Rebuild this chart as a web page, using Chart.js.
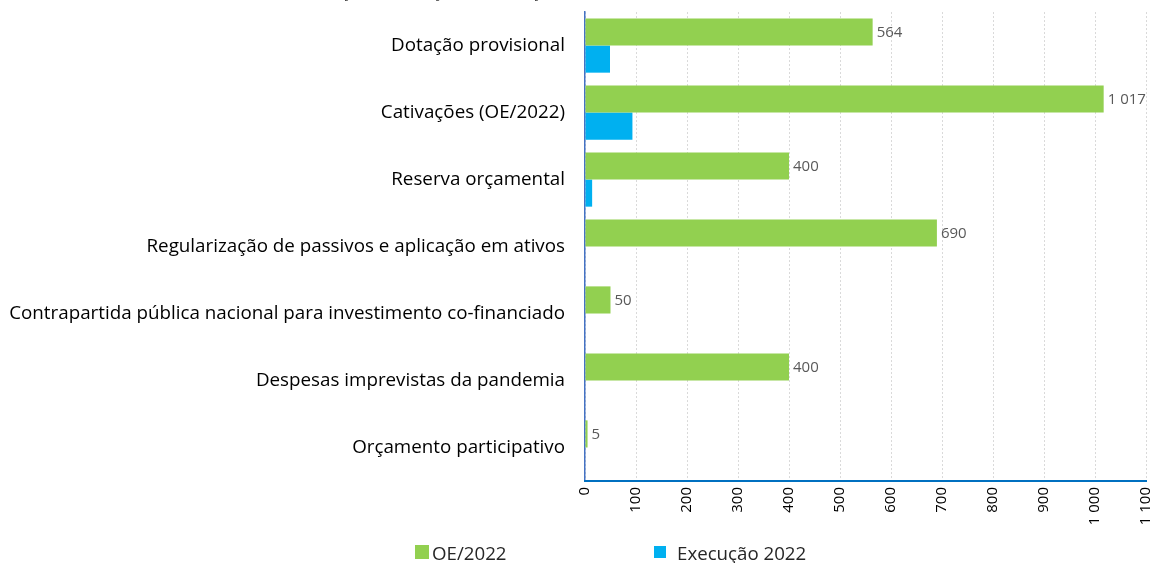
<!DOCTYPE html>
<html>
<head>
<meta charset="utf-8">
<script src="https://cdn.jsdelivr.net/npm/chart.js@4"></script>
<style>
  body { margin: 0; background: #fff; overflow: hidden; width: 1156px; height: 563px; position: relative; font-family: "Open Sans", sans-serif; }
  #wrap { position: absolute; left: 0; top: -18px; width: 1156px; height: 581px; }
  #legend { position: absolute; top: 541px; left: 0; width: 1156px; height: 22px; font-size: 18.7px; color: #262626; }
  .item { position: absolute; top: 0; display: flex; align-items: center; height: 22px; }
  .box { display: inline-block; }
</style>
</head>
<body>
<div id="wrap"><canvas id="chart" width="1156" height="581"></canvas></div>
<div id="legend"></div>
<script>
const categories = [
    'Dotação provisional',
    'Cativações (OE/2022)',
    'Reserva orçamental',
    'Regularização de passivos e aplicação em ativos',
    'Contrapartida pública nacional para investimento co-financiado',
    'Despesas imprevistas da pandemia',
    'Orçamento participativo'
];
const oe2022 = [564, 1017, 400, 690, 50, 400, 5];
const execucao2022 = [49, 93, 14, null, null, null, null];
const seriesNames = ['OE/2022', 'Execução 2022'];
const seriesColors = ['#92d050', '#00b0f0'];
const titleText = 'Utilização e execução das dotações centralizadas (em milhões de euros)';

function fmt(v) {
    return String(v).replace(/\B(?=(\d{3})+(?!\d))/g, ' ');
}

// rótulos de valor só na série OE/2022
const valueLabels = {
    id: 'valueLabels',
    afterDatasetsDraw(chart) {
        const ctx = chart.ctx;
        const meta = chart.getDatasetMeta(0);
        ctx.save();
        ctx.font = '15px "Open Sans"';
        ctx.fillStyle = '#595959';
        ctx.textAlign = 'left';
        ctx.textBaseline = 'middle';
        meta.data.forEach((bar, i) => {
            const v = chart.data.datasets[0].data[i];
            if (v == null) return;
            ctx.fillText(fmt(v), bar.x + 4, bar.y + 1);
        });
        ctx.restore();
    }
};

new Chart(document.getElementById('chart'), {
    type: 'bar',
    data: {
        labels: categories,
        datasets: [
            { label: seriesNames[0], data: oe2022, backgroundColor: seriesColors[0] },
            { label: seriesNames[1], data: execucao2022, backgroundColor: seriesColors[1] }
        ]
    },
    options: {
        indexAxis: 'y',
        responsive: false,
        animation: false,
        categoryPercentage: 0.81,
        barPercentage: 1,
        layout: { padding: { left: 0, right: 10, top: 0, bottom: 0 } },
        plugins: {
            legend: { display: false },
            tooltip: { enabled: false },
            title: {
                display: true,
                text: titleText,
                color: '#262626',
                font: { family: 'Open Sans', size: 16.7, weight: 'normal' },
                padding: { top: 0, bottom: 10 }
            }
        },
        scales: {
            y: {
                grid: { display: false },
                border: { color: '#4472c4', width: 1.5 },
                ticks: { color: '#000', padding: 12, font: { family: 'Open Sans', size: 18.8 } },
                afterFit: s => { s.width = 585; s.paddingTop = 0; s.paddingBottom = 0; }
            },
            x: {
                min: 0,
                max: 1100,
                grid: { color: '#d9d9d9', drawTicks: false },
                border: { color: '#0070c0', width: 2, dash: [2, 2] },
                ticks: {
                    stepSize: 100,
                    minRotation: 90,
                    maxRotation: 90,
                    padding: 6,
                    color: '#000',
                    font: { family: 'Open Sans', size: 15 },
                    callback: v => fmt(v)
                },
                afterFit: s => { s.height = 82; s.paddingLeft = 0; s.paddingRight = 0; }
            }
        }
    },
    plugins: [valueLabels]
});

// legenda
const legendPos = [{ left: 415, size: 14, gap: 3 }, { left: 654, size: 12, gap: 11 }];
const legend = document.getElementById('legend');
seriesNames.forEach((name, i) => {
    const p = legendPos[i];
    const item = document.createElement('div');
    item.className = 'item';
    item.style.left = p.left + 'px';
    item.innerHTML = `<span class="box" style="width:${p.size}px;height:${p.size}px;background:${seriesColors[i]};margin-right:${p.gap}px"></span>${name}`;
    legend.appendChild(item);
});
</script>
</body>
</html>
